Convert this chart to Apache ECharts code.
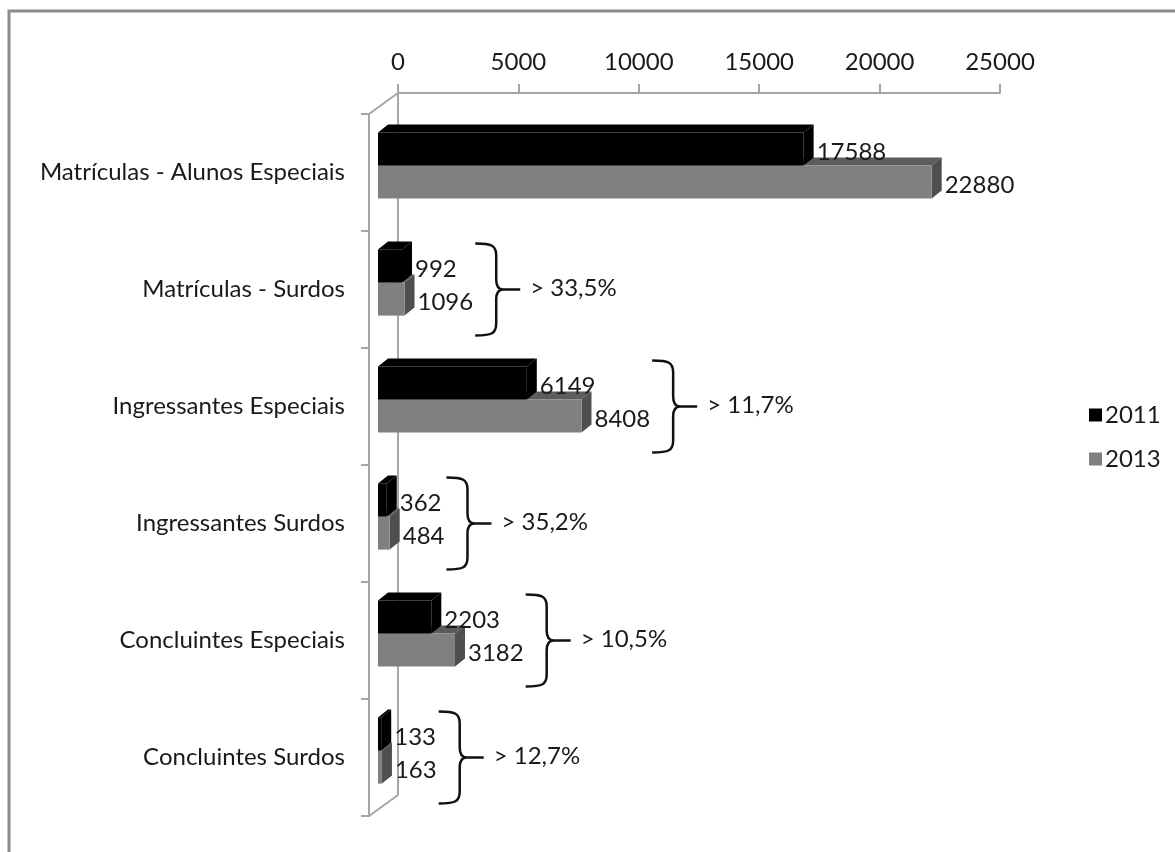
<!DOCTYPE html>
<html lang="pt">
<head>
    <meta charset="UTF-8">
    <title>Matrículas, ingressantes e concluintes</title>
    <script src="https://cdn.jsdelivr.net/npm/echarts@6/dist/echarts.min.js"></script>
    <style>
        html, body { margin: 0; padding: 0; background: #fff; }
        #chart { width: 1175px; height: 852px; }
    </style>
</head>
<body>
    <div id="chart"></div>
    <script>
        // dados
        var categories = ['Matrículas - Alunos Especiais', 'Matrículas - Surdos', 'Ingressantes Especiais',
                          'Ingressantes Surdos', 'Concluintes Especiais', 'Concluintes Surdos'];
        var values2011 = [17588, 992, 6149, 362, 2203, 133];
        var values2013 = [22880, 1096, 8408, 484, 3182, 163];
        var growthLabels = ['', '> 33,5%', '> 11,7%', '> 35,2%', '> 10,5%', '> 12,7%'];
        var axisMin = 0, axisMax = 25000, axisStep = 5000;

        var FONT = 'Lato';
        var FS = 24;
        var DX = 10, DY = 8;          // profundidade das barras
        var WALL = '#a6a6a6';

        var measureCtx = document.createElement('canvas').getContext('2d');
        measureCtx.font = FS + 'px ' + FONT;
        function textWidth(t) { return measureCtx.measureText(t).width; }

        // geometria de uma barra 3D (pos 0 = barra de cima, 1 = de baixo)
        function barGeom(api, pos) {
            var cat = api.value(1);
            var p0 = api.coord([0, cat]);
            var p1 = api.coord([api.value(0), cat]);
            var h = api.size([0, 1])[1] * 0.283;
            var top = pos === 0 ? p1[1] - h : p1[1];
            return { x0: p0[0], x1: p1[0], top: top, bottom: top + h, mid: p1[1] };
        }

        function barRenderer(pos, front, topC, sideC) {
            return function (params, api) {
                var g = barGeom(api, pos);
                return {
                    type: 'group',
                    children: [
                        { type: 'polygon', shape: { points: [[g.x0, g.top], [g.x0 + DX, g.top - DY], [g.x1 + DX, g.top - DY], [g.x1, g.top]] },
                          style: { fill: topC } },
                        { type: 'polygon', shape: { points: [[g.x1, g.top], [g.x1 + DX, g.top - DY], [g.x1 + DX, g.bottom - DY], [g.x1, g.bottom]] },
                          style: { fill: sideC } },
                        { type: 'rect', shape: { x: g.x0, y: g.top, width: g.x1 - g.x0, height: g.bottom - g.top },
                          style: { fill: front } },
                        { type: 'text', x: g.x1 + DX + 3, y: (g.top + g.bottom) / 2 + 3,
                          style: { text: String(api.value(0)), fill: '#1a1a1a', font: FS + 'px ' + FONT,
                                   verticalAlign: 'middle', align: 'left' } }
                    ]
                };
            };
        }

        function braceRenderer(params, api) {
            var idx = params.dataIndex;
            var label = growthLabels[idx];
            if (!label) return null;
            var g = barGeom(api, 1);
            var tx = g.x1 + DX + 3 + textWidth(String(api.value(0))) + 2;
            var yc = g.mid + 7;
            var H = 46, w = 21;
            var d = 'M' + tx + ' ' + (yc - H) +
                ' C' + (tx + w * 0.8) + ' ' + (yc - H) + ' ' + (tx + w) + ' ' + (yc - H + 2) + ' ' + (tx + w) + ' ' + (yc - H + 12) +
                ' L' + (tx + w) + ' ' + (yc - 10) +
                ' C' + (tx + w) + ' ' + (yc - 3) + ' ' + (tx + w + 3) + ' ' + yc + ' ' + (tx + w + 7) + ' ' + yc +
                ' C' + (tx + w + 3) + ' ' + yc + ' ' + (tx + w) + ' ' + (yc + 3) + ' ' + (tx + w) + ' ' + (yc + 10) +
                ' L' + (tx + w) + ' ' + (yc + H - 12) +
                ' C' + (tx + w) + ' ' + (yc + H - 2) + ' ' + (tx + w * 0.8) + ' ' + (yc + H) + ' ' + tx + ' ' + (yc + H) +
                ' M' + (tx + w + 7) + ' ' + yc + ' L' + (tx + w + 24) + ' ' + yc;
            return {
                type: 'group',
                children: [
                    { type: 'path', shape: { pathData: d }, style: { fill: null, stroke: '#111', lineWidth: 2.5 } },
                    { type: 'text', x: tx + w + 34, y: yc - 1, style: { text: label, fill: '#1a1a1a', font: FS + 'px ' + FONT,
                      verticalAlign: 'middle', align: 'left' } }
                ]
            };
        }

        var chart = echarts.init(document.getElementById('chart'));

        var option = {
            backgroundColor: '#fff',
            animation: false,
            textStyle: { fontFamily: FONT },
            grid: [
                { left: 398, top: 93, width: 602, height: 702 },   // parede de fundo
                { left: 369, top: 114, width: 600, height: 702 },  // frente da parede
                { left: 378, top: 107, width: 605, height: 702 }   // plano das barras
            ],
            xAxis: [
                { gridIndex: 0, type: 'value', position: 'top', min: axisMin, max: axisMax, interval: axisStep,
                  axisLine: { show: true, lineStyle: { color: WALL, width: 2 } },
                  axisTick: { show: true, length: 9, lineStyle: { color: WALL, width: 2 } },
                  splitLine: { show: false },
                  axisLabel: { fontSize: FS, color: '#1a1a1a', margin: 19, fontFamily: FONT,
                               formatter: function (v) { return String(v); } } },
                { gridIndex: 1, type: 'value', show: false, min: axisMin, max: axisMax },
                { gridIndex: 2, type: 'value', show: false, min: axisMin, max: axisMax }
            ],
            yAxis: [
                { gridIndex: 0, type: 'category', inverse: true, data: categories,
                  axisLine: { show: true, lineStyle: { color: WALL, width: 2 } },
                  axisTick: { show: false }, axisLabel: { show: false } },
                { gridIndex: 1, type: 'category', inverse: true, data: categories,
                  axisLine: { show: true, onZero: false, lineStyle: { color: WALL, width: 2 } },
                  axisTick: { show: true, length: 8, lineStyle: { color: WALL, width: 2 } },
                  axisLabel: { fontSize: FS, color: '#1a1a1a', margin: 24, fontFamily: FONT } },
                { gridIndex: 2, type: 'category', inverse: true, data: categories, show: false }
            ],
            legend: {
                orient: 'vertical', left: 1084, top: 398,
                itemWidth: 13, itemHeight: 13, itemGap: 20,
                icon: 'rect',
                data: ['2011', '2013'],
                textStyle: { fontSize: FS, color: '#1a1a1a', fontFamily: FONT, padding: [0, 0, 0, -2] }
            },
            graphic: [
                { type: 'rect', shape: { x: 9, y: 11, width: 3000, height: 3000 },
                  style: { fill: null, stroke: '#8c8c8c', lineWidth: 3 }, silent: true },
                { type: 'line', shape: { x1: 369, y1: 114, x2: 398, y2: 93 }, style: { stroke: WALL, lineWidth: 2 } },
                { type: 'line', shape: { x1: 369, y1: 816, x2: 398, y2: 795 }, style: { stroke: WALL, lineWidth: 2 } }
            ],
            series: [
                { name: '2013', type: 'custom', xAxisIndex: 2, yAxisIndex: 2, z: 2,
                  itemStyle: { color: '#808080' },
                  encode: { x: 0, y: 1 },
                  data: values2013.map(function (v, i) { return [v, i]; }),
                  renderItem: barRenderer(1, '#808080', '#5c5c5c', '#4f4f4f') },
                { name: '2011', type: 'custom', xAxisIndex: 2, yAxisIndex: 2, z: 3,
                  itemStyle: { color: '#000' },
                  encode: { x: 0, y: 1 },
                  data: values2011.map(function (v, i) { return [v, i]; }),
                  renderItem: barRenderer(0, '#000', '#000', '#000') },
                { name: 'braces', type: 'custom', xAxisIndex: 2, yAxisIndex: 2, z: 4,
                  encode: { x: 0, y: 1 },
                  data: values2013.map(function (v, i) { return [v, i]; }),
                  renderItem: braceRenderer }
            ]
        };

        chart.setOption(option);
    </script>
</body>
</html>
